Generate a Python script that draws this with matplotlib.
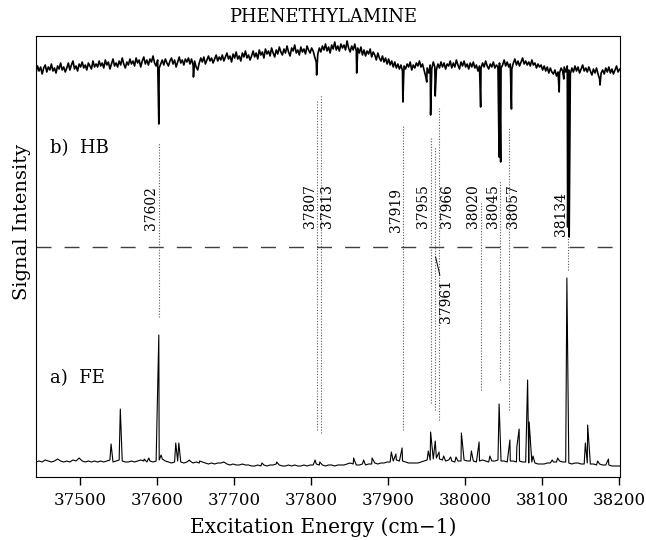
import numpy as np
import matplotlib
matplotlib.use("Agg")
import matplotlib.pyplot as plt

plt.rcParams['font.family'] = ['DejaVu Serif']

# --- data (arbitrary intensity units, 0 = axis bottom) ---
x_ticks = [37500, 37600, 37700, 37800, 37900, 38000, 38100, 38200]

# HB trace (top) sampled every 2 cm-1 from 37442.5
hb_start = 37442.5
hb_step = 2
hb_base = [
    404, 411, 406, 410, 403, 409, 412, 405, 410, 407, 413, 406, 409, 404, 411, 408, 414, 407, 410, 405,
    409, 414, 407, 412, 416, 408, 411, 406, 413, 410, 415, 409, 412, 407, 414, 411, 408, 416, 410, 413,
    410, 416, 411, 414, 409, 417, 412, 415, 408, 413, 418, 411, 414, 410, 416, 412, 419, 413, 409, 415,
    412, 418, 413, 416, 411, 419, 414, 417, 410, 416, 420, 413, 417, 412, 418, 415, 421, 414, 411, 417,
    409, 413, 417, 412, 418, 414, 411, 416, 419, 413, 417, 410, 415, 420, 414, 417, 412, 418, 415, 419,
    413, 418, 412, 416, 410, 407, 414, 419, 415, 420, 413, 417, 421, 416, 419, 414, 418, 422, 416, 420,
    417, 422, 416, 420, 424, 418, 421, 415, 423, 419, 425, 418, 421, 416, 424, 420, 426, 419, 422, 417,
    421, 426, 420, 424, 418, 427, 422, 425, 419, 428, 423, 426, 421, 429, 424, 420, 427, 423, 430, 425,
    422, 428, 424, 431, 425, 421, 429, 426, 432, 424, 427, 422, 430, 425, 428, 423, 431, 427, 424, 429,
    426, 420, 415, 423, 429, 425, 431, 427, 433, 426, 430, 424, 432, 428, 435, 427, 431, 426, 433, 429,
    432, 427, 436, 429, 425, 431, 427, 433, 426, 429, 424, 430, 422, 427, 421, 426, 423, 428, 420, 425,
    422, 417, 424, 419, 416, 421, 415, 419, 413, 418, 412, 416, 410, 415, 409, 413, 408, 412, 406, 411,
    408, 413, 410, 415, 407, 412, 409, 414, 411, 416, 410, 413, 407, 401, 409, 404, 412, 408, 415, 410,
    407, 413, 409, 415, 410, 414, 408, 413, 411, 416, 409, 414, 410, 417, 412, 408, 415, 411, 416, 410,
    413, 408, 414, 410, 415, 409, 412, 406, 411, 409, 414, 410, 416, 411, 408, 413, 410, 415, 409, 412,
    410, 414, 409, 412, 417, 411, 415, 410, 413, 408, 414, 418, 412, 416, 411, 415, 419, 413, 416, 412,
    415, 411, 417, 412, 414, 409, 413, 410, 412, 407, 411, 406, 410, 404, 409, 405, 403, 407, 401, 405,
    404, 409, 406, 410, 405, 411, 407, 403, 409, 405, 411, 406, 410, 404, 408, 412, 406, 409, 405, 410,
    406, 402, 408, 404, 409, 403, 398, 404, 407, 403, 409, 405, 410, 404, 408, 403, 407, 411, 405, 408,
    406,
]
# hole burning dips
hb_dip_pos = [37602, 37647, 37807, 37859, 37919, 37950, 37955, 37961,
              38020, 38044, 38046, 38060, 38122, 38128, 38133, 38135, 38175]
hb_dip_val = [353, 400, 402, 404, 375, 395, 362, 381,
              370, 320, 315, 368, 385, 398, 250, 240, 392]

# FE trace (bottom) sampled every 4 cm-1 from 37442.5
fe_start = 37442.5
fe_step = 4
fe_base = [
    15, 16, 15, 17, 16, 15, 16, 18, 16, 15,
    16, 15, 17, 16, 19, 16, 15, 16, 15, 16,
    15, 16, 15, 16, 17, 15, 16, 17, 16, 15,
    15, 16, 15, 16, 17, 16, 15, 16, 15, 16,
    17, 18, 16, 15, 14, 15, 16, 15, 14, 15,
    16, 14, 15, 14, 15, 14, 13, 14, 13, 14,
    14, 15, 13, 12, 13, 12, 12, 13, 12, 12,
    11, 11, 12, 11, 12, 11, 12, 12, 13, 12,
    11, 11, 12, 11, 12, 11, 11, 12, 11, 12,
    12, 13, 12, 12, 11, 12, 12, 11, 12, 12,
    12, 13, 14, 13, 12, 12, 13, 12, 13, 13,
    14, 13, 14, 14, 15, 15, 16, 17, 16, 16,
    15, 14, 14, 14, 14, 15, 16, 17, 17, 18,
    19, 18, 17, 16, 17, 16, 15, 16, 16, 17,
    16, 16, 16, 15, 16, 17, 16, 15, 16, 16,
    17, 16, 16, 15, 16, 16, 15, 16, 15, 15,
    14, 15, 14, 13, 13, 13, 14, 14, 15, 15,
    16, 15, 15, 14, 13, 14, 14, 13, 13, 14,
    13, 13, 12, 13, 12, 12, 12, 11, 11, 11,
    11,
]
# fluorescence excitation peaks
fe_peak_pos = [37540, 37552, 37583, 37589, 37602, 37605, 37624, 37628, 37642,
               37655, 37736, 37755, 37805, 37811, 37855, 37868, 37879, 37904,
               37910, 37918, 37952, 37955, 37961, 37966, 37972, 37981, 37988,
               37995, 38008, 38018, 38032, 38044, 38058, 38067, 38070, 38081,
               38083, 38088, 38113, 38120, 38132, 38156, 38159, 38172, 38186]
fe_peak_val = [33, 68, 18, 19, 142, 22, 34, 34, 17,
               16, 14, 15, 17, 15, 19, 17, 19, 25,
               23, 29, 26, 45, 36, 25, 21, 20, 20,
               44, 26, 35, 21, 73, 37, 30, 48, 97,
               55, 21, 17, 19, 199, 34, 52, 16, 18]

# assigned bands: dotted guide lines
guide_pos = [37602, 37807, 37813, 37919, 37955, 37961, 37966, 38020, 38045, 38057, 38134]
guide_top = [335, 377, 382, 352, 339, 330, 369, 274, 297, 350, 240]
guide_bot = [160, 47, 44, 47, 74, 67, 57, 87, 97, 67, 207]

band_labels = [37602, 37807, 37813, 37919, 37955, 37966, 38020, 38045, 38057, 38134]
below_label = 37961

divider = 230

# --- layout ---
label_dx = [-9.5, -8.5, 7.5, -9, -10, 10, -10, -9, 5, -10]
label_y = [247, 249, 249, 245, 249, 249, 249, 249, 249, 241]

fig = plt.figure(figsize=(6.46, 5.4), dpi=100)
ax = fig.add_axes([36 / 646, 63 / 540, 584 / 646, 441 / 540])

hb_x = hb_start + hb_step * np.arange(len(hb_base))
hb = sorted(zip(list(hb_x) + hb_dip_pos, hb_base + hb_dip_val))
ax.plot([p[0] for p in hb], [p[1] for p in hb], color='black', lw=1.2)

fe_x = fe_start + fe_step * np.arange(len(fe_base))
fe = sorted(zip(list(fe_x) + fe_peak_pos, fe_base + fe_peak_val))
ax.plot([p[0] for p in fe], [p[1] for p in fe], color='black', lw=0.8)

ax.vlines(guide_pos, guide_bot, guide_top, colors='0.35', lw=0.8,
          linestyles=(0, (1, 1.5)))

ax.axhline(divider, color='0.25', lw=1.0, ls=(0, (10.8, 9.4)))

for v, dx, yy in zip(band_labels, label_dx, label_y):
    ax.text(v + dx, yy, str(v), rotation=90, ha='center', va='bottom', fontsize=10)

ax.text(below_label + 14, 198, str(below_label), rotation=90, ha='center', va='top', fontsize=10)
ax.plot([below_label + 0.5, below_label + 6], [220, 202], color='black', lw=0.7)

ax.text(37460.5, 329, 'b)  HB', ha='left', va='center', fontsize=13)
ax.text(37460.5, 99, 'a)  FE', ha='left', va='center', fontsize=13)

ax.set_xlim(37442.5, 38201)
ax.set_ylim(0, 441)
ax.set_yticks([])
ax.set_xticks(x_ticks)
ax.tick_params(axis='x', direction='out', length=6, width=1, pad=5, labelsize=12)

fig.text(0.5, 1 - 17 / 540, 'PHENETHYLAMINE', ha='center', va='center', fontsize=13)
fig.text(0.5, 1 - 527 / 540, 'Excitation Energy (cm\u22121)', ha='center', va='center', fontsize=14.5)
fig.text(22 / 646, 1 - 222 / 540, 'Signal Intensity', ha='center', va='center',
         rotation=90, fontsize=14)

fig.savefig('out.png', dpi=100)
